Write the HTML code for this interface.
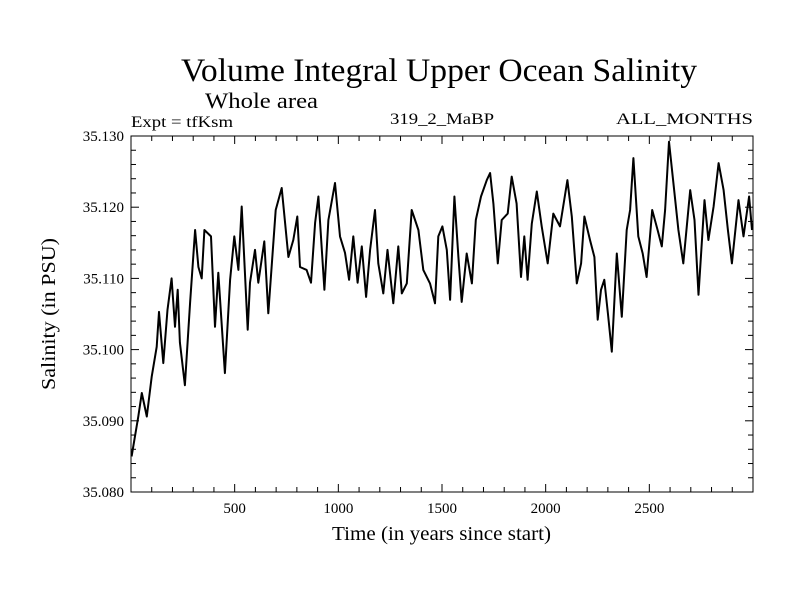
<!DOCTYPE html>
<html><head><meta charset="utf-8"><style>
body{margin:0;background:#fff;}
svg text{font-family:"Liberation Serif",serif;fill:#000;}
</style></head><body>
<svg width="800" height="600" xmlns="http://www.w3.org/2000/svg">
<text x="181" y="81" font-size="33" textLength="516" lengthAdjust="spacingAndGlyphs">Volume Integral Upper Ocean Salinity</text>
<text x="205" y="108" font-size="22" textLength="113" lengthAdjust="spacingAndGlyphs">Whole area</text>
<text x="131" y="127" font-size="16" textLength="102" lengthAdjust="spacingAndGlyphs">Expt = tfKsm</text>
<text x="390" y="124" font-size="16" textLength="104" lengthAdjust="spacingAndGlyphs">319_2_MaBP</text>
<text x="616" y="124" font-size="16" textLength="137" lengthAdjust="spacingAndGlyphs">ALL_MONTHS</text>
<g id="axes"></g>
<path id="series" fill="none" stroke="#000" stroke-width="2" stroke-linejoin="round"/>
<rect x="131" y="136" width="622" height="356" fill="none" stroke="#000" stroke-width="1"/>
<text x="332" y="540" font-size="20" textLength="219" lengthAdjust="spacingAndGlyphs">Time (in years since start)</text>
<text x="0" y="0" font-size="20" textLength="152" lengthAdjust="spacingAndGlyphs" transform="translate(55,390) rotate(-90)">Salinity (in PSU)</text>
</svg>
<script>
const years=[3,35,52,76,100,124,135,156,176,196,212,225,236,260,285,309,325,341,354,386,405,421,453,478,498,518,534,563,574,598,614,643,662,698,727,759,783,802,815,847,868,888,904,933,952,984,1008,1032,1052,1072,1093,1113,1134,1153,1177,1193,1217,1237,1265,1289,1306,1330,1354,1386,1410,1442,1466,1482,1502,1523,1539,1560,1579,1595,1619,1644,1663,1688,1716,1732,1748,1769,1788,1817,1836,1860,1881,1897,1913,1933,1957,1981,2010,2037,2069,2105,2126,2150,2171,2187,2214,2235,2251,2267,2283,2300,2319,2343,2367,2391,2407,2423,2447,2468,2487,2514,2540,2560,2576,2595,2616,2640,2664,2697,2718,2737,2766,2785,2810,2834,2858,2879,2898,2930,2954,2981,2995];
const salinity=[35.0850,35.0906,35.0939,35.0906,35.0962,35.1004,35.1053,35.0981,35.1056,35.1100,35.1032,35.1084,35.1010,35.0950,35.1066,35.1168,35.1116,35.1100,35.1168,35.1159,35.1032,35.1108,35.0967,35.1098,35.1159,35.1112,35.1201,35.1028,35.1094,35.1140,35.1094,35.1152,35.1051,35.1196,35.1227,35.1130,35.1154,35.1187,35.1116,35.1112,35.1094,35.1178,35.1215,35.1084,35.1182,35.1234,35.1159,35.1136,35.1098,35.1159,35.1094,35.1145,35.1074,35.1140,35.1196,35.1121,35.1079,35.1140,35.1065,35.1145,35.1079,35.1093,35.1196,35.1168,35.1112,35.1093,35.1065,35.1159,35.1173,35.1140,35.1070,35.1215,35.1130,35.1067,35.1135,35.1093,35.1182,35.1215,35.1238,35.1248,35.1205,35.1121,35.1182,35.1191,35.1243,35.1205,35.1102,35.1159,35.1098,35.1177,35.1222,35.1173,35.1121,35.1191,35.1173,35.1238,35.1187,35.1093,35.1121,35.1187,35.1154,35.1130,35.1042,35.1084,35.1098,35.1051,35.0997,35.1135,35.1046,35.1168,35.1196,35.1269,35.1159,35.1135,35.1102,35.1196,35.1168,35.1145,35.1196,35.1292,35.1234,35.1168,35.1121,35.1224,35.1182,35.1077,35.1210,35.1154,35.1201,35.1262,35.1224,35.1168,35.1121,35.1210,35.1159,35.1215,35.1168];
const xTicks=[500,1000,1500,2000,2500];
const yTicks=[35.080,35.090,35.100,35.110,35.120,35.130];
const X0=131,X1=753,Y0=492,Y1=136;
const xs=v=>X0+(v-0)/(3000-0)*(X1-X0);
const ys=v=>Y0-(v-35.080)/(0.050)*(Y0-Y1);
const ns="http://www.w3.org/2000/svg";
const g=document.getElementById('axes');
function ln(x1,y1,x2,y2,name){const l=document.createElementNS(ns,'line');l.setAttribute('x1',x1);l.setAttribute('y1',y1);l.setAttribute('x2',x2);l.setAttribute('y2',y2);l.setAttribute('stroke','#000');l.setAttribute('stroke-width','1');


g.appendChild(l);}
function tx(x,y,s,anchor,name){const t=document.createElementNS(ns,'text');t.setAttribute('x',x);t.setAttribute('y',y);t.setAttribute('font-size','15');t.setAttribute('text-anchor',anchor);t.textContent=s;


g.appendChild(t);}
for(let v=100;v<3000;v+=100){const x=xs(v);const major=v%500===0;const L=major?8:5;
ln(x,Y0,x,Y0-L,'x-tick');ln(x,Y1,x,Y1+L,'x-tick-top');}
for(let i=0;i<=25;i++){const v=35.080+i*0.002;const y=ys(v);const major=i%5===0;const L=major?8:5;
ln(X0,y,X0+L,y,'y-tick');ln(X1,y,X1-L,y,'y-tick-right');}
xTicks.forEach(v=>tx(xs(v),513,String(v),'middle','x-tick-label'));
yTicks.forEach(v=>tx(X0-7,ys(v)+5,v.toFixed(3),'end','y-tick-label'));
let d='';years.forEach((yr,i)=>{d+=(i?'L':'M')+xs(yr).toFixed(1)+','+ys(salinity[i]).toFixed(1);});
document.getElementById('series').setAttribute('d',d);
</script>
</body></html>
